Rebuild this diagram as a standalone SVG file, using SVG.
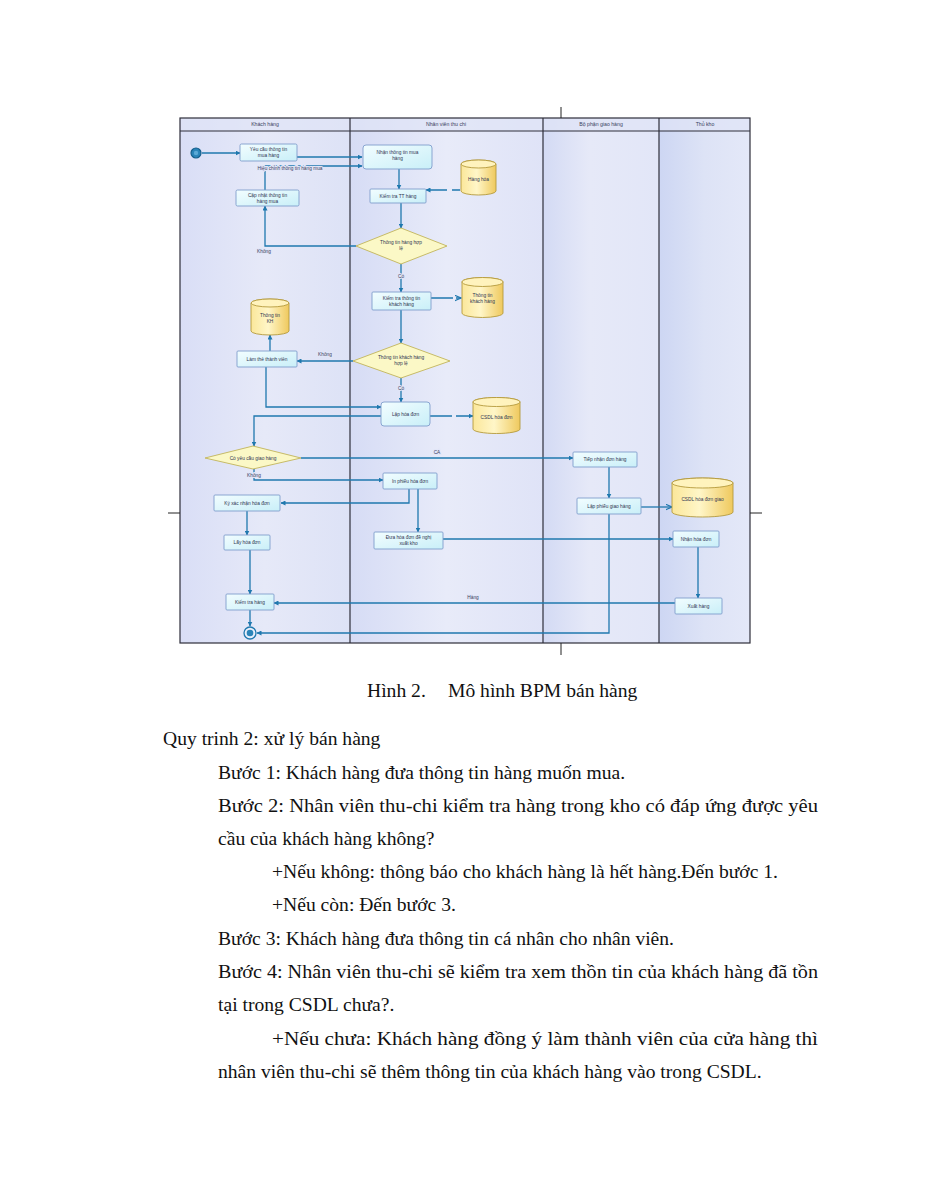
<svg xmlns="http://www.w3.org/2000/svg" width="927" height="1200" viewBox="0 0 927 1200">
<defs>
<linearGradient id="laneA" x1="0" y1="0" x2="1" y2="0"><stop offset="0" stop-color="#d9def6"/><stop offset="0.5" stop-color="#e6e9f8"/><stop offset="1" stop-color="#dde2f6"/></linearGradient>
<linearGradient id="laneB" x1="0" y1="0" x2="1" y2="0"><stop offset="0" stop-color="#d6dcf5"/><stop offset="0.5" stop-color="#e8ebf9"/><stop offset="1" stop-color="#dfe3f7"/></linearGradient>
<linearGradient id="laneC" x1="0" y1="0" x2="1" y2="0"><stop offset="0" stop-color="#d3daf4"/><stop offset="0.4" stop-color="#e6e9f8"/><stop offset="1" stop-color="#e2e6f8"/></linearGradient>
<linearGradient id="laneD" x1="0" y1="0" x2="1" y2="0"><stop offset="0" stop-color="#cdd6f3"/><stop offset="0.5" stop-color="#dde3f6"/><stop offset="1" stop-color="#e4e8f8"/></linearGradient>
<linearGradient id="task" x1="0" y1="0" x2="1" y2="1"><stop offset="0" stop-color="#f2fdff"/><stop offset="1" stop-color="#c9eff8"/></linearGradient>
<linearGradient id="db" x1="0" y1="0" x2="1" y2="0"><stop offset="0" stop-color="#fbe79a"/><stop offset="0.45" stop-color="#fff6c8"/><stop offset="1" stop-color="#efc95e"/></linearGradient>
<marker id="ar" viewBox="0 0 10 10" refX="9" refY="5" markerWidth="5" markerHeight="5" orient="auto" markerUnits="userSpaceOnUse"><path d="M0,0 L10,5 L0,10 Z" fill="#1f78ae"/></marker>
<marker id="op" viewBox="0 0 10 10" refX="9" refY="5" markerWidth="7" markerHeight="7" orient="auto" markerUnits="userSpaceOnUse"><path d="M0,1 L9,5 L0,9" fill="none" stroke="#1f78ae" stroke-width="1.6"/></marker>
<style>
.lane{stroke:#2e2e3a;stroke-width:1.2}
.hdr{font-family:"Liberation Sans",Arial,sans-serif;font-size:5.2px;fill:#3a4060;text-anchor:middle}
.t{fill:url(#task);stroke:#7f9dcc;stroke-width:0.9}
.dia{fill:#fbf8c6;stroke:#c2b45a;stroke-width:0.9}
.cyl{fill:url(#db);stroke:#b49a3c;stroke-width:0.9}
.cylt{fill:#fff3bd;stroke:#b49a3c;stroke-width:0.9}
.lb{font-family:"Liberation Sans",Arial,sans-serif;font-size:4.8px;fill:#2e3450;text-anchor:middle}
.cl{font-family:"Liberation Sans",Arial,sans-serif;font-size:4.8px;fill:#3a4060;text-anchor:middle;stroke:#e2e6f8;stroke-width:2;paint-order:stroke}
.c{fill:none;stroke:#1f78ae;stroke-width:1.3}
.body{font-family:"Liberation Serif","Times New Roman",serif;font-size:19.6px;fill:#111}
</style>
</defs>
<rect width="927" height="1200" fill="#ffffff"/>

<g id="pool">
<rect x="180" y="118" width="170" height="525" fill="url(#laneA)"/>
<rect x="350" y="118" width="193" height="525" fill="url(#laneB)"/>
<rect x="543" y="118" width="116" height="525" fill="url(#laneC)"/>
<rect x="659" y="118" width="91" height="525" fill="url(#laneD)"/>
<rect x="180" y="118" width="570" height="13" fill="#dfe4f7" opacity="0.7"/>
<rect x="180" y="118" width="570" height="525" fill="none" class="lane"/>
<line x1="180" y1="131" x2="750" y2="131" class="lane"/>
<line x1="350" y1="118" x2="350" y2="643" class="lane"/>
<line x1="543" y1="118" x2="543" y2="643" class="lane"/>
<line x1="659" y1="118" x2="659" y2="643" class="lane"/>
<text x="265" y="126" class="hdr">Khách hàng</text>
<text x="446" y="126" class="hdr">Nhân viên thu chi</text>
<text x="601" y="126" class="hdr">Bộ phận giao hàng</text>
<text x="705" y="126" class="hdr">Thủ kho</text>
</g>

<g id="marks" stroke="#222" stroke-width="1">
<line x1="561" y1="107" x2="561" y2="118"/>
<line x1="561" y1="643" x2="561" y2="655"/>
<line x1="168" y1="513" x2="180" y2="513"/>
<line x1="750" y1="513" x2="762" y2="513"/>
</g>

<g id="connectors">
<path class="c" d="M202,153 H240" marker-end="url(#ar)"/>
<path class="c" d="M297,157 H362" marker-end="url(#ar)"/>
<path class="c" d="M265,190 V166 H362" marker-end="url(#ar)"/>
<path class="c" d="M399,169 V189" marker-end="url(#ar)"/>
<path class="c" d="M460,190 H426" stroke-dasharray="8,5,30,0" marker-end="url(#ar)"/>
<path class="c" d="M401,203 V228" marker-end="url(#ar)"/>
<path class="c" d="M356,246 H265 V206" marker-end="url(#ar)"/>
<path class="c" d="M401,264 V292" marker-end="url(#ar)"/>
<path class="c" d="M431,298 H461" stroke-dasharray="22,3" marker-end="url(#op)"/>
<path class="c" d="M401,310 V343" marker-end="url(#ar)"/>
<path class="c" d="M353,361 H297" marker-end="url(#ar)"/>
<path class="c" d="M270,351 V335" marker-end="url(#ar)"/>
<path class="c" d="M266,367 V407 H381" marker-end="url(#ar)"/>
<path class="c" d="M401,378 V402" marker-end="url(#ar)"/>
<path class="c" d="M430,416 H473" stroke-dasharray="22,4" marker-end="url(#ar)"/>
<path class="c" d="M381,416 H254 V446" marker-end="url(#ar)"/>
<path class="c" d="M301,458 H573" marker-end="url(#ar)"/>
<path class="c" d="M254,469 V480 H383" marker-end="url(#ar)"/>
<path class="c" d="M409,489 V503 H281" marker-end="url(#ar)"/>
<path class="c" d="M418,489 V532" marker-end="url(#ar)"/>
<path class="c" d="M247,511 V535" marker-end="url(#ar)"/>
<path class="c" d="M250,550 V594" marker-end="url(#ar)"/>
<path class="c" d="M250,610 V626" marker-end="url(#ar)"/>
<path class="c" d="M609,467 V498" marker-end="url(#ar)"/>
<path class="c" d="M641,507 H672" marker-end="url(#op)"/>
<path class="c" d="M609,514 V633 H257" marker-end="url(#ar)"/>
<path class="c" d="M443,539 H673" marker-end="url(#ar)"/>
<path class="c" d="M698,547 V598" marker-end="url(#ar)"/>
<path class="c" d="M675,603 H274" marker-end="url(#ar)"/>
<text x="290" y="169.5" class="cl">Hiệu chỉnh thông tin hàng mua</text>
<text x="264" y="253" class="cl">Không</text>
<text x="401" y="278" class="cl">Có</text>
<text x="325" y="356" class="cl">Không</text>
<text x="401" y="390" class="cl">Có</text>
<text x="437" y="454" class="cl">CA</text>
<text x="254" y="477" class="cl">Không</text>
<text x="473" y="599" class="cl">Hàng</text>
</g>

<g id="start"><circle cx="196" cy="153" r="5" fill="#2a84b8" stroke="#155f8c" stroke-width="1.2"/><circle cx="196" cy="153" r="2.2" fill="#5aa9d6"/></g>
<g id="end"><circle cx="250" cy="633" r="6" fill="#e6eefb" stroke="#1f78ae" stroke-width="1.3"/><circle cx="250" cy="633" r="3.3" fill="#2a84b8"/></g>

<g id="yeucau"><rect class="t" x="240" y="144" width="57" height="17" rx="1.5"/><text class="lb" x="268.5" y="151">Yêu cầu thông tin</text><text class="lb" x="268.5" y="157">mua hàng</text></g>
<g id="capnhat"><rect class="t" x="236" y="190" width="63" height="16" rx="1.5"/><text class="lb" x="267.5" y="196.5">Cập nhật thông tin</text><text class="lb" x="267.5" y="202.5">hàng mua</text></g>
<g id="nhanthongtin"><rect class="t" x="363" y="145" width="69" height="24" rx="3"/><text class="lb" x="397.5" y="154">Nhận thông tin mua</text><text class="lb" x="397.5" y="160">hàng</text></g>
<g id="kiemtratt"><rect class="t" x="370" y="189" width="56" height="14" rx="1"/><text class="lb" x="398" y="197.5">Kiểm tra TT hàng</text></g>
<g id="hanghoa"><path class="cyl" d="M461,164 A17.5,4 0 0 1 496,164 V191 A17.5,4 0 0 1 461,191 Z"/><ellipse class="cylt" cx="478.5" cy="164" rx="17.5" ry="4"/><text class="lb" x="478.5" y="181">Hàng hóa</text></g>
<g id="dia1"><path class="dia" d="M401,228 L447,246 L401,264 L356,246 Z"/><text class="lb" x="401" y="244">Thông tin hàng hợp</text><text class="lb" x="401" y="250">lệ</text></g>
<g id="kiemtrakh"><rect class="t" x="372" y="292" width="59" height="18" rx="1"/><text class="lb" x="401.5" y="299.5">Kiểm tra thông tin</text><text class="lb" x="401.5" y="305.5">khách hàng</text></g>
<g id="ttkhachhang"><path class="cyl" d="M462,282 A20.5,4.5 0 0 1 503,282 V313 A20.5,4.5 0 0 1 462,313 Z"/><ellipse class="cylt" cx="482.5" cy="282" rx="20.5" ry="4.5"/><text class="lb" x="482.5" y="297">Thông tin</text><text class="lb" x="482.5" y="303">khách hàng</text></g>
<g id="dia2"><path class="dia" d="M401,343 L450,361 L401,378 L353,361 Z"/><text class="lb" x="401" y="358.5">Thông tin khách hàng</text><text class="lb" x="401" y="364.5">hợp lệ</text></g>
<g id="lamthe"><rect class="t" x="237" y="351" width="60" height="16" rx="1"/><text class="lb" x="267" y="360.5">Làm thẻ thành viên</text></g>
<g id="ttkh"><path class="cyl" d="M251,303 A19,4 0 0 1 289,303 V331 A19,4 0 0 1 251,331 Z"/><ellipse class="cylt" cx="270" cy="303" rx="19" ry="4"/><text class="lb" x="270" y="317">Thông tin</text><text class="lb" x="270" y="323">KH</text></g>
<g id="laphoadon"><rect class="t" x="381" y="402" width="49" height="24" rx="3"/><text class="lb" x="405.5" y="415.5">Lập hóa đơn</text></g>
<g id="csdlhoadon"><path class="cyl" d="M473,402 A23.5,4.5 0 0 1 520,402 V429 A23.5,4.5 0 0 1 473,429 Z"/><ellipse class="cylt" cx="496.5" cy="402" rx="23.5" ry="4.5"/><text class="lb" x="496.5" y="419">CSDL hóa đơn</text></g>
<g id="dia3"><path class="dia" d="M253,446 L301,458 L253,469 L205,458 Z"/><text class="lb" x="253" y="459.5">Có yêu cầu giao hàng</text></g>
<g id="inphieu"><rect class="t" x="383" y="473" width="54" height="16" rx="1"/><text class="lb" x="410" y="482.5">In phiếu hóa đơn</text></g>
<g id="kyxacnhan"><rect class="t" x="214" y="495" width="66" height="16" rx="1"/><text class="lb" x="247" y="504.5">Ký xác nhận hóa đơn</text></g>
<g id="layhoadon"><rect class="t" x="224" y="535" width="46" height="15" rx="1"/><text class="lb" x="247" y="544">Lấy hóa đơn</text></g>
<g id="kiemtrahang"><rect class="t" x="226" y="594" width="48" height="16" rx="1"/><text class="lb" x="250" y="603.5">Kiểm tra hàng</text></g>
<g id="duahoadon"><rect class="t" x="374" y="532" width="69" height="17" rx="1"/><text class="lb" x="408.5" y="539">Đưa hóa đơn đề nghị</text><text class="lb" x="408.5" y="545">xuất kho</text></g>
<g id="tiepnhan"><rect class="t" x="573" y="452" width="64" height="15" rx="1"/><text class="lb" x="605" y="461">Tiếp nhận đơn hàng</text></g>
<g id="lapphieu"><rect class="t" x="577" y="498" width="64" height="16" rx="1"/><text class="lb" x="609" y="507.5">Lập phiếu giao hàng</text></g>
<g id="csdlgiao"><path class="cyl" d="M672,483 A30.5,5 0 0 1 733,483 V512 A30.5,5 0 0 1 672,512 Z"/><ellipse class="cylt" cx="702.5" cy="483" rx="30.5" ry="5"/><text class="lb" x="702.5" y="501">CSDL hóa đơn giao</text></g>
<g id="nhanhoadon"><rect class="t" x="673" y="531" width="46" height="16" rx="1"/><text class="lb" x="696" y="540.5">Nhận hóa đơn</text></g>
<g id="xuathang"><rect class="t" x="675" y="598" width="47" height="16" rx="1"/><text class="lb" x="698.5" y="607.5">Xuất hàng</text></g>

<g id="text">
<text class="body" x="367" y="697">Hình 2.</text>
<text class="body" x="448" y="697">Mô hình BPM bán hàng</text>
<text class="body" x="163" y="745">Quy trinh 2: xử lý bán hàng</text>
<text class="body" x="218" y="779">Bước 1: Khách hàng đưa thông tin hàng muốn mua.</text>
<text class="body" x="218" y="812" textLength="600" lengthAdjust="spacingAndGlyphs">Bước 2: Nhân viên thu-chi kiểm tra hàng trong kho có đáp ứng được yêu</text>
<text class="body" x="218" y="845">cầu của khách hàng không?</text>
<text class="body" x="272" y="878">+Nếu không: thông báo cho khách hàng là hết hàng.Đến bước 1.</text>
<text class="body" x="272" y="911">+Nếu còn: Đến bước 3.</text>
<text class="body" x="218" y="945">Bước 3: Khách hàng đưa thông tin cá nhân cho nhân viên.</text>
<text class="body" x="218" y="978" textLength="600" lengthAdjust="spacingAndGlyphs">Bước 4: Nhân viên thu-chi sẽ kiểm tra xem thồn tin của khách hàng đã tồn</text>
<text class="body" x="218" y="1011">tại trong CSDL chưa?.</text>
<text class="body" x="272" y="1045" textLength="546" lengthAdjust="spacingAndGlyphs">+Nếu chưa: Khách hàng đồng ý làm thành viên của cửa hàng thì</text>
<text class="body" x="218" y="1078">nhân viên thu-chi sẽ thêm thông tin của khách hàng vào trong CSDL.</text>
</g>
</svg>
